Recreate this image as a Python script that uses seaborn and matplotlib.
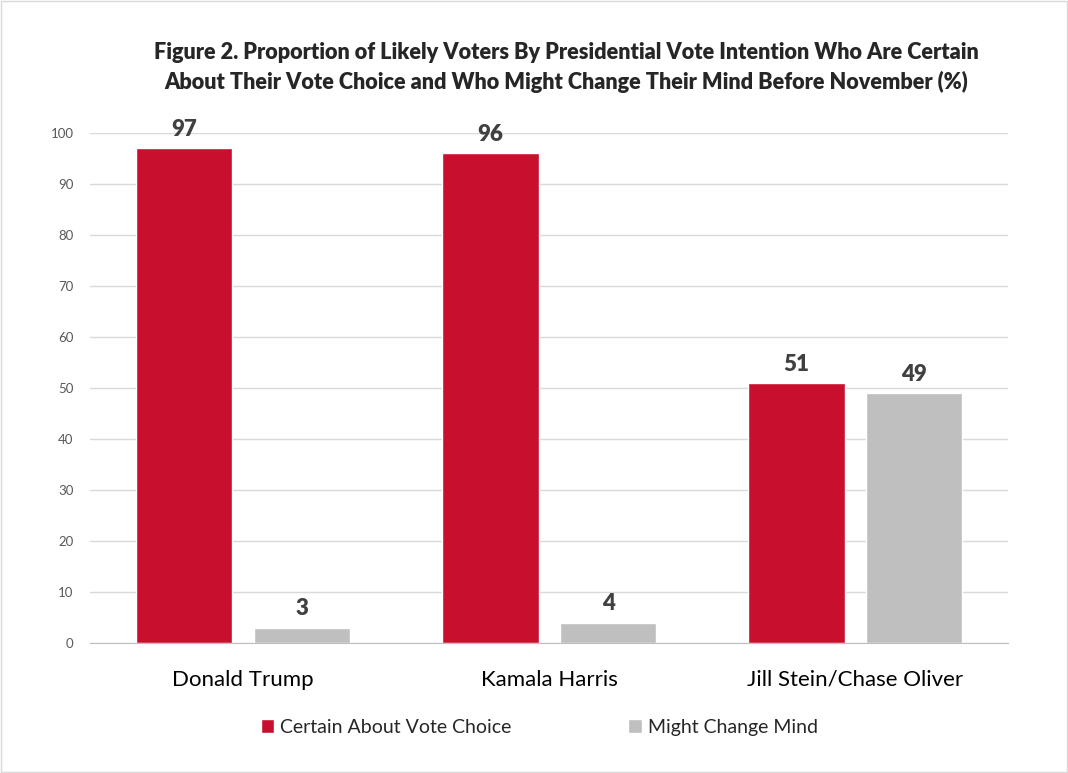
import pandas as pd
import matplotlib.pyplot as plt
import seaborn as sns
from matplotlib.patches import Patch

candidates = ['Donald Trump', 'Kamala Harris', 'Jill Stein/Chase Oliver']
certain = [97, 96, 51]
might_change = [3, 4, 49]
series_names = ['Certain About Vote Choice', 'Might Change Mind']
yticks = [0, 10, 20, 30, 40, 50, 60, 70, 80, 90, 100]

df = pd.DataFrame({
    'Candidate': candidates * 2,
    'Group': [series_names[0]] * 3 + [series_names[1]] * 3,
    'Value': certain + might_change,
})

sns.set_style('white')
plt.rcParams['font.family'] = ['Lato', 'DejaVu Sans']

fig = plt.figure(figsize=(10.68, 7.73), dpi=100)
ax = fig.add_axes([0.0843, 0.168, 0.8597, 0.66])
palette = ['#C8102E', '#BFBFBF']
sns.barplot(data=df, x='Candidate', y='Value', hue='Group', palette=palette,
            width=0.77, gap=0.18, saturation=1, legend=False, ax=ax)

for c in ax.containers:
    ax.bar_label(c, fmt='%d', padding=6, fontsize=16, fontweight='heavy',
                 color='#404040', clip_on=False)

ax.set_ylim(0, 100)
ax.set_xlim(-0.5, 2.5)
ax.set_yticks(yticks)
ax.yaxis.grid(True, color='#D9D9D9', linewidth=1)
ax.set_axisbelow(True)
for side in ['top', 'right', 'left']:
    ax.spines[side].set_visible(False)
ax.spines['bottom'].set_color('#BFBFBF')
ax.tick_params(axis='y', labelsize=9.5, labelcolor='#595959', length=0, pad=12)
ax.tick_params(axis='x', labelsize=16, labelcolor='#000000', length=0, pad=19)
ax.set_xlabel('')
ax.set_ylabel('')

fig.text(0.53, 0.913,
         'Figure 2. Proportion of Likely Voters By Presidential Vote Intention Who Are Certain\n'
         'About Their Vote Choice and Who Might Change Their Mind Before November (%)',
         ha='center', va='center', fontsize=15.6, fontweight='heavy', linespacing=1.45)

handles = [Patch(facecolor=palette[0]), Patch(facecolor=palette[1])]
fig.legend(handles, series_names, loc='center', bbox_to_anchor=(0.505, 0.059),
           ncol=2, frameon=False, fontsize=14, handlelength=0.7, handleheight=0.7,
           handletextpad=0.3, columnspacing=6)

fig.patches.append(plt.Rectangle((0.001, 0.001), 0.998, 0.998, transform=fig.transFigure,
                                 fill=False, edgecolor='#D9D9D9', linewidth=1))

plt.savefig('out.png', dpi=100)
plt.close()
